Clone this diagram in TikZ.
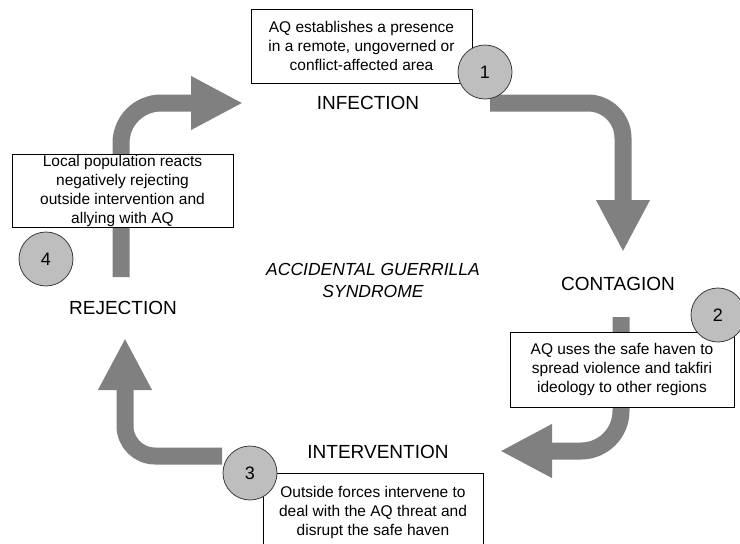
\documentclass[tikz,border=0pt]{standalone}
\usepackage{fontspec}
\setmainfont{Liberation Sans}
\usetikzlibrary{arrows.meta,backgrounds}
\definecolor{bandgray}{RGB}{128,128,128}
\definecolor{discgray}{RGB}{190,190,190}
\definecolor{discline}{RGB}{60,60,60}

\begin{document}
\begin{tikzpicture}[x=1pt,y=-1pt,
    stagebox/.style={draw,line width=0.8pt,fill=white,align=center,inner sep=0pt,
      font=\fontsize{15.5}{19}\selectfont},
    stagedisc/.style={circle,draw=discline,line width=0.8pt,fill=discgray,
      minimum size=54pt,inner sep=0pt,font=\fontsize{18}{18}\selectfont},
    phase/.style={font=\fontsize{19}{23}\selectfont},
    band/.style={draw=bandgray,line width=17pt,-{Triangle[length=52pt,width=50pt]}}]
    \useasboundingbox (0,0) rectangle (740,544);
    % stage boxes
    \node[stagebox,minimum width=221pt,minimum height=74pt] (b_inf) at (361.5,46)
      {AQ establishes a presence\\in a remote, ungoverned or\\conflict-affected area};
    \node[stagebox,minimum width=224pt,minimum height=75pt] (b_con) at (622,369.5)
      {AQ uses the safe haven to\\spread violence and takfiri\\ideology to other regions};
    \node[stagebox,minimum width=220pt,minimum height=78pt] (b_int) at (373,512)
      {Outside forces intervene to\\deal with the AQ threat and\\disrupt the safe haven};
    \node[stagebox,minimum width=221pt,minimum height=73pt] (b_rej) at (122.5,190.5)
      {Local population reacts\\negatively rejecting\\outside intervention and\\allying with AQ};
    % phase names
    \node[phase] (l_inf) at (368,103) {INFECTION};
    \node[phase] (l_con) at (618,284) {CONTAGION};
    \node[phase] (l_int) at (378,452) {INTERVENTION};
    \node[phase] (l_rej) at (123,308) {REJECTION};
    \node[align=center,font=\fontsize{17.5}{22}\selectfont\itshape] (l_syn) at (373,280)
      {ACCIDENTAL GUERRILLA\\SYNDROME};
    % numbered discs
    \node[stagedisc] (c_1) at (485,72) {1};
    \node[stagedisc] (c_2) at (718,315) {2};
    \node[stagedisc] (c_3) at (250,473) {3};
    \node[stagedisc] (c_4) at (46,259) {4};
    % band ends
    \coordinate (a_inf) at (490,103); \coordinate (t_con) at (623,252);
    \coordinate (a_con) at (621,317); \coordinate (t_int) at (500,451);
    \coordinate (a_int) at (222,456); \coordinate (t_rej) at (125,338);
    \coordinate (a_rej) at (121,277); \coordinate (t_inf) at (243,103);
    \begin{scope}[on background layer]
      \draw[band,rounded corners=35pt] (a_inf) -| (t_con);
      \draw[band,rounded corners=40pt] (a_con) |- (t_int);
      \draw[band,rounded corners=30pt] (a_int) -| (t_rej);
      \draw[band,rounded corners=40pt] (a_rej) |- (t_inf);
    \end{scope}
\end{tikzpicture}
\end{document}
